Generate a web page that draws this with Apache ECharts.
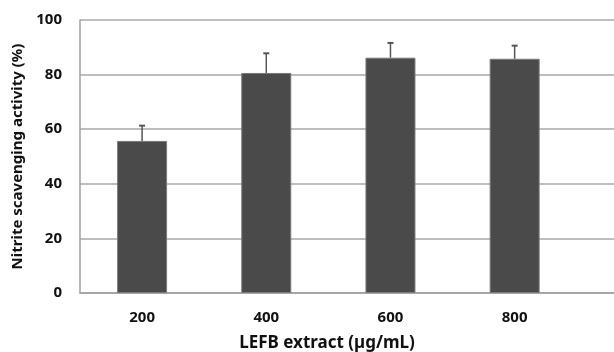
<!DOCTYPE html>
<html>
<head>
<meta charset="utf-8">
<script src="https://cdn.jsdelivr.net/npm/echarts@6/dist/echarts.min.js"></script>
<style>
  html, body { margin: 0; padding: 0; background: #fff; }
  #chart { width: 614px; height: 352px; }
</style>
</head>
<body>
<div id="chart"></div>
<script>
// doses (µg/mL), mean activity and upper error
const doses = [200, 400, 600, 800];
const means = [55.7, 80.6, 86.2, 85.8];
const errors = [5.6, 7.2, 5.4, 4.8];
const yTicks = [0, 20, 40, 60, 80, 100];

const font = '"Noto Sans", "DejaVu Sans", sans-serif';

const myChart = echarts.init(document.getElementById('chart'));

const option = {
  animation: false,
  title: {
    text: 'LEFB extract (µg/mL)',
    left: 327,
    top: 335,
    padding: 0,
    textAlign: 'center',
    textStyle: { fontFamily: font, fontSize: 17, fontWeight: 'bold', color: '#111' }
  },
  grid: { left: 80, right: 0, top: 20, bottom: 59 },
  xAxis: {
    type: 'value',
    min: 100,
    max: 960,
    splitLine: { show: false },
    axisLine: { show: true, lineStyle: { color: '#a0a0a0', width: 1.5 } },
    axisTick: { show: false },
    axisLabel: {
      customValues: doses,
      margin: 17,
      fontFamily: font,
      fontSize: 15,
      fontWeight: 'bold',
      color: '#111'
    }
  },
  yAxis: {
    type: 'value',
    min: yTicks[0],
    max: yTicks[yTicks.length - 1],
    interval: 20,
    name: 'Nitrite scavenging activity (%)',
    nameLocation: 'middle',
    nameGap: 54,
    nameTextStyle: { fontFamily: font, fontSize: 15, fontWeight: 'bold', color: '#111' },
    axisLine: { show: true, lineStyle: { color: '#a0a0a0', width: 1.5 } },
    axisTick: { show: false },
    splitLine: { show: true, lineStyle: { color: '#a8a8a8', width: 1.5 } },
    axisLabel: {
      margin: 18,
      fontFamily: font,
      fontSize: 15,
      fontWeight: 'bold',
      color: '#111'
    }
  },
  series: [
    {
      type: 'bar',
      barWidth: 50,
      data: doses.map((d, i) => [d, means[i]]),
      itemStyle: { color: '#4a4a4a', borderColor: '#7a7a7a', borderWidth: 1 },
      z: 2
    },
    {
      type: 'custom',
      z: 3,
      data: doses.map((d, i) => [d, means[i], means[i] + errors[i]]),
      renderItem: function (params, api) {
        const lo = api.coord([api.value(0), api.value(1)]);
        const hi = api.coord([api.value(0), api.value(2)]);
        return {
          type: 'group',
          children: [
            { type: 'line', shape: { x1: lo[0], y1: lo[1], x2: hi[0], y2: hi[1] }, style: { stroke: '#555', lineWidth: 1.5 } },
            { type: 'line', shape: { x1: hi[0] - 3, y1: hi[1], x2: hi[0] + 3, y2: hi[1] }, style: { stroke: '#555', lineWidth: 2 } }
          ]
        };
      }
    }
  ]
};

myChart.setOption(option);
</script>
</body>
</html>
